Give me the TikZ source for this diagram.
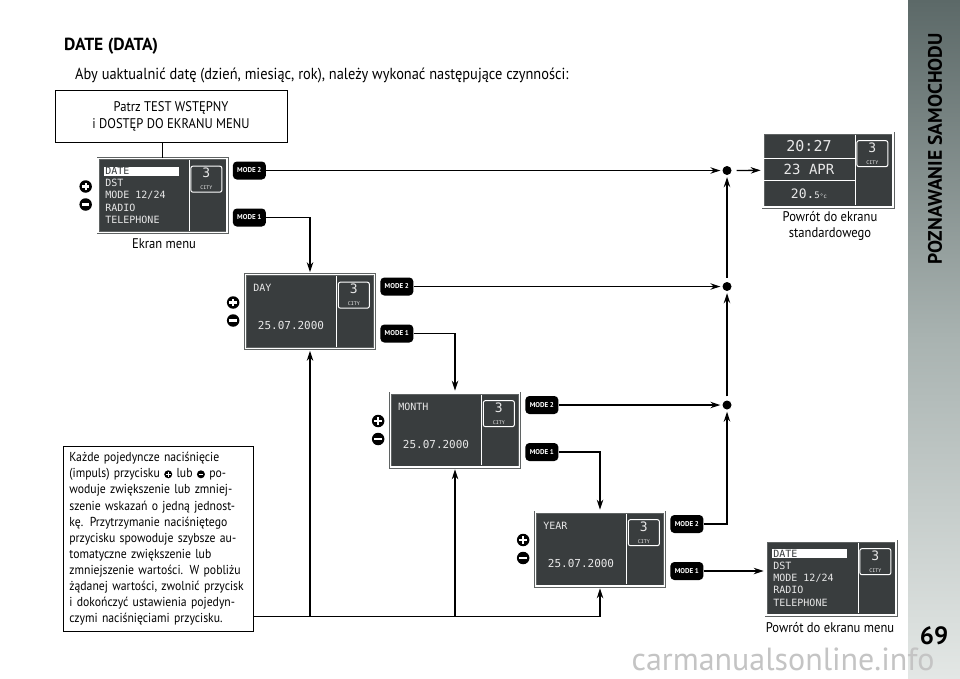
\documentclass[tikz,border=0pt]{standalone}
\usepackage{fontspec}
\setmainfont{PT Sans}[FakeStretch=0.9]
\newfontfamily\widefont{PT Sans}
\newfontfamily\lcdfont{DejaVu Sans Mono}
\usetikzlibrary{arrows.meta,positioning,calc}

\definecolor{lcdgray}{HTML}{393D3E}
\definecolor{framegray}{HTML}{5F6363}
\definecolor{lcdtxt}{HTML}{E8E8E8}
\definecolor{bartop}{HTML}{5C6968}
\definecolor{barmid}{HTML}{A9B3B1}
\definecolor{barbottom}{HTML}{E3E7E5}
\definecolor{markgray}{HTML}{C4C4C4}

\tikzset{
  screen/.style={draw=framegray, double=white, double distance=1.6pt, line width=0.7pt,
    fill=lcdgray, minimum width=129pt, minimum height=74pt, inner sep=0pt},
  citybox/.style={draw=white, line width=1pt, rounded corners=2pt, fill=lcdgray, text=lcdtxt,
    minimum width=31pt, minimum height=26pt, inner sep=0pt, align=center, font=\lcdfont},
  lcdtext/.style={text=lcdtxt, font=\lcdfont\fontsize{10}{10}\selectfont, inner sep=0pt},
  modekey/.style={fill=black, rounded corners=4pt, minimum width=33pt, minimum height=18pt,
    inner sep=0pt, text=white, font=\widefont\bfseries\fontsize{7}{7}\selectfont},
  keyplus/.style={circle, fill=black, minimum size=12.5pt, inner sep=0pt,
    path picture={\draw[white, line width=2.2pt]
      ([xshift=-3.8pt]path picture bounding box.center) -- ([xshift=3.8pt]path picture bounding box.center)
      ([yshift=-3.8pt]path picture bounding box.center) -- ([yshift=3.8pt]path picture bounding box.center);}},
  keyminus/.style={circle, fill=black, minimum size=12.5pt, inner sep=0pt,
    path picture={\draw[white, line width=2.2pt]
      ([xshift=-3.8pt]path picture bounding box.center) -- ([xshift=3.8pt]path picture bounding box.center);}},
  dot/.style={circle, fill=black, minimum size=9pt, inner sep=0pt},
  wire/.style={line width=1.3pt},
  flow/.style={wire, -{Stealth[length=10pt,width=6.5pt]}, shorten >=2pt},
  caption/.style={font=\fontsize{14}{16}\selectfont, align=center, inner sep=0pt},
  notebox/.style={draw, line width=0.8pt, anchor=north west, text width=178pt, inner xsep=6pt,
    inner ysep=6pt, align=left, font=\fontsize{13}{16.1}\selectfont}
}

\newcommand{\citypanel}[1]{%
  \draw[white, line width=1pt] ([xshift=-38pt,yshift=-2pt]#1.north east) -- ([xshift=-38pt,yshift=2pt]#1.south east);
  \node[citybox] (#1-city) at ([xshift=-21pt,yshift=-21pt]#1.north east)
    {\fontsize{13}{11}\selectfont 3\\[0pt]\fontsize{5}{5}\selectfont CITY};
}
\newcommand{\menuitems}[1]{%
  \node[lcdtext, fill=white, text=lcdgray, text width=72pt, inner xsep=1.5pt, inner ysep=0.8pt, anchor=west]
    (#1-0) at ([xshift=6pt,yshift=-13pt]#1.north west) {DATE};
  \foreach \txt [count=\i] in {DST,MODE 12/24,RADIO,TELEPHONE}
    \node[lcdtext, anchor=west] (#1-\i) at ([xshift=7.5pt,yshift=-13pt-12.2pt*\i]#1.north west) {\txt};
}
\newcommand{\inplus}{\tikz[baseline=-0.55ex]{\fill (0pt,0pt) circle[radius=4pt];
  \draw[white, line width=1.4pt] (-2.4pt,0pt) -- (2.4pt,0pt) (0pt,-2.4pt) -- (0pt,2.4pt);}}
\newcommand{\inminus}{\tikz[baseline=-0.55ex]{\fill (0pt,0pt) circle[radius=4pt];
  \draw[white, line width=1.4pt] (-2.4pt,0pt) -- (2.4pt,0pt);}}
\newcommand{\fullline}[1]{\makebox[178pt][s]{#1}}

\begin{document}
\begin{tikzpicture}[x=1pt, y=-1pt]
\useasboundingbox (0,0) rectangle (960,678);
\fill[white] (0,0) rectangle (960,678);
\shade[top color=bartop, bottom color=barbottom, middle color=barmid] (908,0) rectangle (960,678);

\node[anchor=base west, inner sep=0pt, font=\widefont\bfseries\fontsize{17.5}{17.5}\selectfont] (title) at (64,50) {DATE (DATA)};
\node[anchor=base west, inner sep=0pt, font=\fontsize{16}{18}\selectfont] (lead) at (75,79)
  {Aby uaktualnić datę (dzień, miesiąc, rok), należy wykonać następujące czynności:};

\node[draw, line width=0.8pt, minimum width=232pt, minimum height=52pt, align=center,
  font=\fontsize{14}{17}\selectfont] (intro) at (171,116) {Patrz TEST WSTĘPNY\\i DOSTĘP DO EKRANU MENU};

% ekran menu
\node[screen] (menu) at (162.5,195.5) {};
\citypanel{menu}
\menuitems{menu}
\node[caption] (menu-cap) at (164,244) {Ekran menu};
\node[keyplus] (menu-plus) at ([xshift=-12pt,yshift=9pt]menu.west) {};
\node[keyminus] (menu-minus) at ([xshift=-12pt,yshift=-9pt]menu.west) {};
\node[modekey] (menu-m2) at ([xshift=22pt,yshift=25pt]menu.east) {MODE 2};
\node[modekey] (menu-m1) at ([xshift=22pt,yshift=-22pt]menu.east) {MODE 1};

% DAY, MONTH, YEAR
\foreach \nm/\lbl/\cx/\cy in {day/DAY/310/311.5,month/MONTH/455/430,year/YEAR/600/549}{
  \node[screen] (\nm) at (\cx,\cy) {};
  \citypanel{\nm}
  \node[lcdtext, anchor=west] (\nm-lbl) at ([xshift=8pt,yshift=-14pt]\nm.north west) {\lbl};
  \node[lcdtext, font=\lcdfont\fontsize{11}{11}\selectfont] (\nm-date) at ([xshift=-19pt,yshift=-14pt]\nm.center) {25.07.2000};
  \node[keyplus] (\nm-plus) at ([xshift=-12pt,yshift=9pt]\nm.west) {};
  \node[keyminus] (\nm-minus) at ([xshift=-12pt,yshift=-9pt]\nm.west) {};
  \node[modekey] (\nm-m2) at ([xshift=22pt,yshift=25pt]\nm.east) {MODE 2};
  \node[modekey] (\nm-m1) at ([xshift=22pt,yshift=-22pt]\nm.east) {MODE 1};
}

% ekran standardowy
\node[screen, minimum width=130pt] (std) at (828,170) {};
\citypanel{std}
\draw[white, line width=1pt] ([yshift=-26pt]std.north west) -- ([xshift=-38pt,yshift=-26pt]std.north east)
  ([yshift=-48pt]std.north west) -- ([xshift=-38pt,yshift=-48pt]std.north east);
\node[lcdtext, font=\lcdfont\fontsize{15}{15}\selectfont] (std-time) at ([xshift=-19pt,yshift=-13pt]std.north) {20:27};
\node[lcdtext, font=\lcdfont\fontsize{14}{14}\selectfont] (std-date) at ([xshift=-19pt,yshift=-37pt]std.north) {23 APR};
\node[lcdtext, font=\lcdfont\fontsize{13}{13}\selectfont] (std-temp) at ([xshift=-19pt,yshift=-61pt]std.north)
  {20.{\fontsize{9}{9}\selectfont 5}{\fontsize{6}{6}\selectfont °c}};
\node[caption] (std-cap) at (830,226) {Powrót do ekranu\\standardowego};

\node[screen, minimum width=130pt] (menu2) at (831,578) {};
\citypanel{menu2}
\menuitems{menu2}
\node[caption] (menu2-cap) at (830,628) {Powrót do ekranu menu};

\coordinate (rail) at (727,0);
\node[dot] (dot1) at (menu-m2 -| rail) {};
\node[dot] (dot2) at (day-m2 -| rail) {};
\node[dot] (dot3) at (month-m2 -| rail) {};

\draw[wire] (intro.south -| menu) -- (menu.north);
\draw[flow] (menu-m2) -- (dot1);
\draw[flow, shorten <=5pt] (dot1) -- (std);
\draw[flow] (menu-m1) -| (day);
\draw[flow] (day-m2) -- (dot2);
\draw[flow] (day-m1) -| (month);
\draw[flow] (month-m2) -- (dot3);
\draw[flow] (month-m1) -| (year);
\draw[flow] (year-m2) -| (dot3);
\draw[flow] (year-m1) -- (year-m1 -| menu2.west);
\draw[flow, shorten <=4pt] (dot3) -- (dot2);
\draw[flow, shorten <=4pt] (dot2) -- (dot1);

\node[notebox] (note) at (63,446) {%
  \fullline{Każde pojedyncze naciśnięcie}\\
  \fullline{(impuls) przycisku \inplus{} lub \inminus{} po-}\\
  \fullline{woduje zwiększenie lub zmniej-}\\
  \fullline{szenie wskazań o jedną jednost-}\\
  \fullline{kę. Przytrzymanie naciśniętego}\\
  \fullline{przycisku spowoduje szybsze au-}\\
  \fullline{tomatyczne zwiększenie lub}\\
  \fullline{zmniejszenie wartości. W pobliżu}\\
  \fullline{żądanej wartości, zwolnić przycisk}\\
  \fullline{i dokończyć ustawienia pojedyn-}\\
  \makebox[178pt][l]{czymi naciśnięciami przycisku.}};
\coordinate (tee) at ($(note.south east)+(0pt,15pt)$);
\draw[flow] (tee) -| (year);
\draw[flow] (tee -| day) -- (day);
\draw[flow] (tee -| month) -- (month);

\node[rotate=90, inner sep=0pt, font=\widefont\bfseries\fontsize{19.5}{19.5}\selectfont] (section) at (935,149) {POZNAWANIE SAMOCHODU};
\node[inner sep=0pt, font=\widefont\bfseries\fontsize{25}{25}\selectfont] (page) at (934,636) {69};
\node[anchor=base, inner sep=0pt, text=markgray, font=\widefont\fontsize{32}{32}\selectfont] (mark) at (783,670) {carmanualsonline.info};
\end{tikzpicture}
\end{document}
